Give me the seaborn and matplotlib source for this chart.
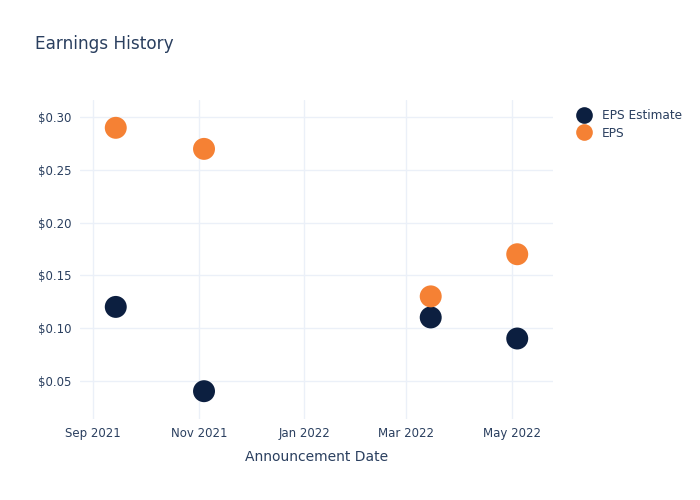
import matplotlib
matplotlib.use("Agg")
import matplotlib.pyplot as plt
import matplotlib.dates as mdates
from matplotlib.ticker import FuncFormatter
from matplotlib.lines import Line2D
import seaborn as sns
import pandas as pd

dates = ["2021-09-14", "2021-11-04", "2022-03-15", "2022-05-04"]
eps_estimate = [0.12, 0.04, 0.11, 0.09]
eps_actual = [0.29, 0.27, 0.13, 0.17]
series_names = ["EPS Estimate", "EPS"]
colors = ["#0c1f40", "#f58134"]

df = pd.DataFrame({
    "date": pd.to_datetime(dates * 2),
    "value": eps_estimate + eps_actual,
    "series": [series_names[0]] * len(dates) + [series_names[1]] * len(dates),
})

sns.set_theme(style="white")
plt.rcParams["font.family"] = ["DejaVu Sans"]
text_color = "#2a3f5f"

fig = plt.figure(figsize=(7, 5), dpi=100)
ax = fig.add_axes([80/700, 1 - 419/500, (553 - 80)/700, (419 - 100)/500])

sns.scatterplot(data=df, x="date", y="value", hue="series",
                palette=dict(zip(series_names, colors)), s=250,
                edgecolor="none", linewidth=0, ax=ax, legend=False, zorder=3)

ax.set_xlim(pd.Timestamp("2021-08-24 08:00"), pd.Timestamp("2022-05-24 16:00"))
ax.set_ylim(0.0136, 0.3164)
ax.set_xticks(pd.to_datetime(["2021-09-01", "2021-11-01", "2022-01-01", "2022-03-01", "2022-05-01"]))
ax.xaxis.set_major_formatter(mdates.DateFormatter("%b %Y"))
ax.set_yticks([0.05, 0.10, 0.15, 0.20, 0.25, 0.30])
ax.yaxis.set_major_formatter(FuncFormatter(lambda v, p: f"${v:.2f}"))

ax.grid(True, color="#ebf0f8", linewidth=1)
ax.set_axisbelow(True)
for sp in ax.spines.values():
    sp.set_visible(False)
ax.tick_params(axis="both", length=0, labelsize=8.5, colors=text_color, pad=6)
ax.set_xlabel("Announcement Date", fontsize=10, color=text_color, labelpad=7)
ax.set_ylabel("")

fig.text(35/700, 1 - 44/500, "Earnings History", fontsize=12.2, color=text_color, va="center", ha="left")

handles = [Line2D([0], [0], marker="o", linestyle="", markersize=12, markerfacecolor=c,
                  markeredgecolor="none") for c in colors]
fig.legend(handles, series_names, loc="upper left", bbox_to_anchor=(572/700, 1 - 104/500),
           frameon=False, fontsize=8.7, labelcolor=text_color, handletextpad=0.9,
           labelspacing=0.4, borderaxespad=0, handlelength=1.2)

fig.savefig("out.png", dpi=100)
